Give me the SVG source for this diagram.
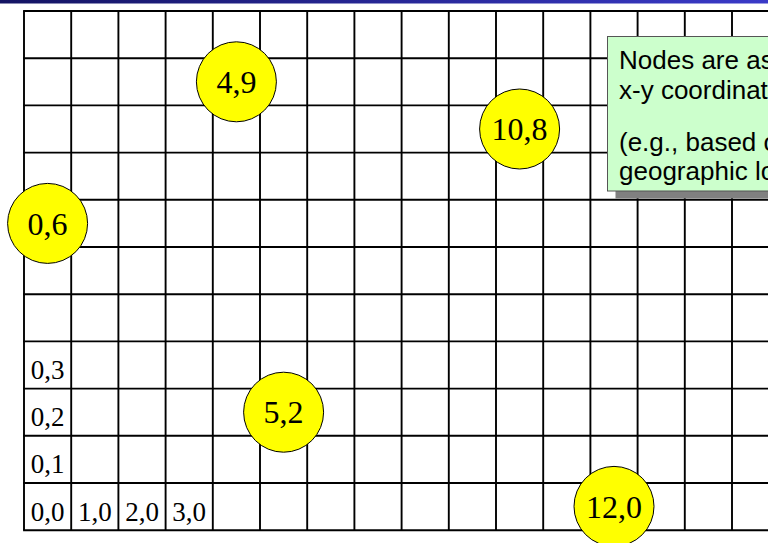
<svg xmlns="http://www.w3.org/2000/svg" width="768" height="543" viewBox="0 0 768 543">
<defs>
<linearGradient id="bar" x1="0" y1="0" x2="1" y2="0">
<stop offset="0" stop-color="#141463"/>
<stop offset="1" stop-color="#3a3ac8"/>
</linearGradient>
<style>
.grid line{stroke:#000;stroke-width:1.9}
.lbl{font-family:"Liberation Serif","Times New Roman",serif;font-size:27px;fill:#000;text-anchor:middle}
.node circle{fill:#ffff00;stroke:#000;stroke-width:1}
.node text{font-family:"Liberation Serif","Times New Roman",serif;font-size:32px;fill:#000;text-anchor:middle}
.note{font-family:"Liberation Sans",Arial,sans-serif;font-size:26px;fill:#000}
</style>
</defs>
<rect x="0" y="0" width="768" height="543" fill="#fff"/>
<rect x="0" y="0" width="768" height="3.5" fill="url(#bar)"/>
<g id="grid" class="grid">
<line x1="24" y1="11" x2="24" y2="530.2"/>
<line x1="71.2" y1="11" x2="71.2" y2="530.2"/>
<line x1="118.4" y1="11" x2="118.4" y2="530.2"/>
<line x1="165.6" y1="11" x2="165.6" y2="530.2"/>
<line x1="212.8" y1="11" x2="212.8" y2="530.2"/>
<line x1="260" y1="11" x2="260" y2="530.2"/>
<line x1="307.2" y1="11" x2="307.2" y2="530.2"/>
<line x1="354.4" y1="11" x2="354.4" y2="530.2"/>
<line x1="401.6" y1="11" x2="401.6" y2="530.2"/>
<line x1="448.8" y1="11" x2="448.8" y2="530.2"/>
<line x1="496" y1="11" x2="496" y2="530.2"/>
<line x1="543.2" y1="11" x2="543.2" y2="530.2"/>
<line x1="590.4" y1="11" x2="590.4" y2="530.2"/>
<line x1="637.6" y1="11" x2="637.6" y2="530.2"/>
<line x1="684.8" y1="11" x2="684.8" y2="530.2"/>
<line x1="732" y1="11" x2="732" y2="530.2"/>
<line x1="23.1" y1="11" x2="780" y2="11"/>
<line x1="23.1" y1="58.2" x2="780" y2="58.2"/>
<line x1="23.1" y1="105.4" x2="780" y2="105.4"/>
<line x1="23.1" y1="152.6" x2="780" y2="152.6"/>
<line x1="23.1" y1="199.8" x2="780" y2="199.8"/>
<line x1="23.1" y1="247" x2="780" y2="247"/>
<line x1="23.1" y1="294.2" x2="780" y2="294.2"/>
<line x1="23.1" y1="341.4" x2="780" y2="341.4"/>
<line x1="23.1" y1="388.6" x2="780" y2="388.6"/>
<line x1="23.1" y1="435.8" x2="780" y2="435.8"/>
<line x1="23.1" y1="483" x2="780" y2="483"/>
<line x1="23.1" y1="530.2" x2="780" y2="530.2"/>
</g>
<g id="grid-labels">
<text class="lbl" x="47.6" y="378.5">0,3</text>
<text class="lbl" x="47.6" y="425.5">0,2</text>
<text class="lbl" x="47.6" y="472.5">0,1</text>
<text class="lbl" x="47.6" y="520.5">0,0</text>
<text class="lbl" x="94.8" y="520.5">1,0</text>
<text class="lbl" x="142" y="520.5">2,0</text>
<text class="lbl" x="189.2" y="520.5">3,0</text>
</g>
<g id="note">
<rect x="615.5" y="44.5" width="170" height="154" fill="#808080"/>
<rect x="607.5" y="36.5" width="170" height="154.5" fill="#ccffcc" stroke="#555" stroke-width="1"/>
<text class="note" x="619" y="69">Nodes are assigned</text>
<text class="note" x="619" y="99">x-y coordinates</text>
<text class="note" x="619" y="151">(e.g., based on</text>
<text class="note" x="619" y="180">geographic location)</text>
</g>
<g id="n-4-9" class="node"><circle cx="236.4" cy="81.8" r="40"/><text x="236.4" y="93">4,9</text></g>
<g id="n-10-8" class="node"><circle cx="519.6" cy="129" r="40"/><text x="519.6" y="140.2">10,8</text></g>
<g id="n-0-6" class="node"><circle cx="47.6" cy="223.4" r="40"/><text x="47.6" y="234.6">0,6</text></g>
<g id="n-5-2" class="node"><circle cx="283.6" cy="412.2" r="40"/><text x="283.6" y="423.4">5,2</text></g>
<g id="n-12-0" class="node"><circle cx="614" cy="506.4" r="40"/><text x="614" y="517.6">12,0</text></g>
<g id="connectors"></g>
</svg>
